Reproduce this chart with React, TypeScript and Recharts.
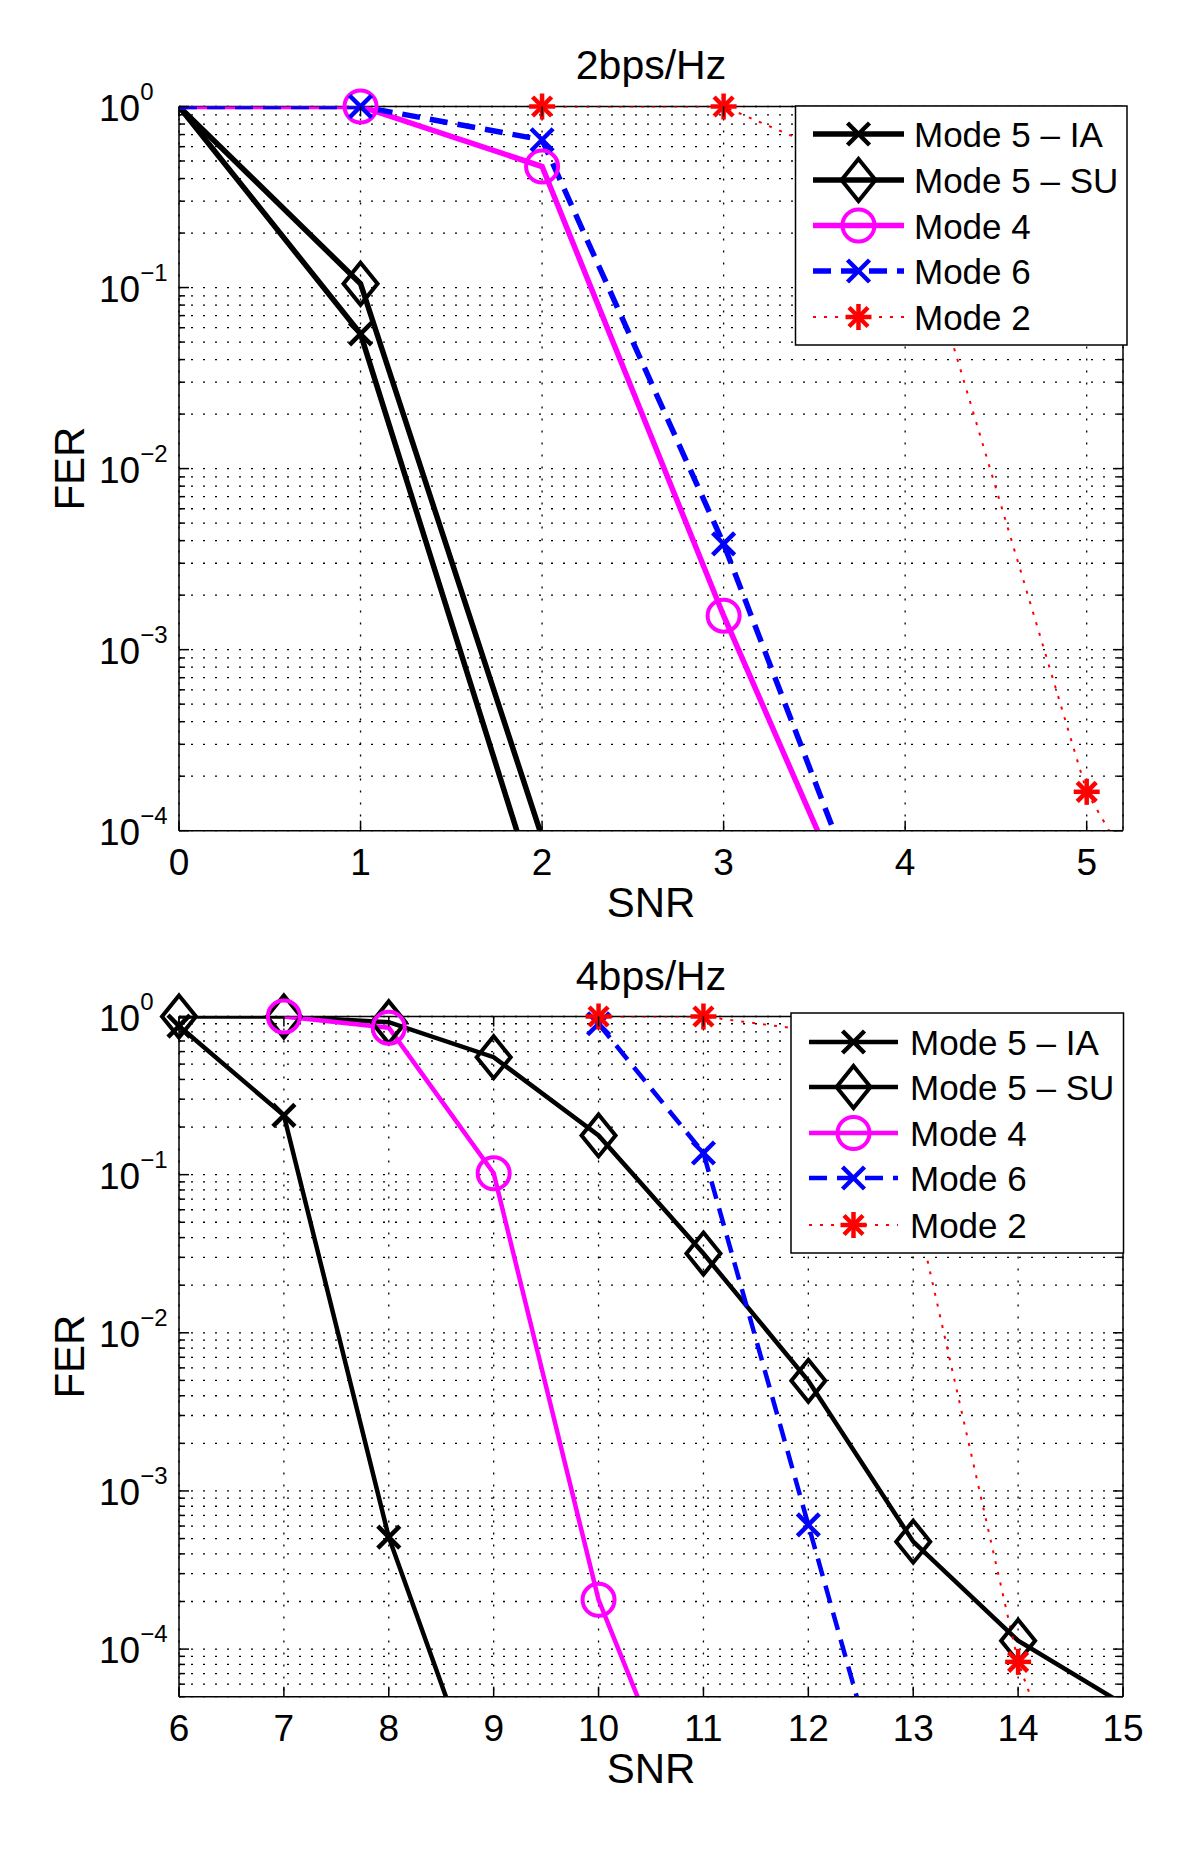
import React from 'react';
import { LineChart, Line, XAxis, YAxis, CartesianGrid, ReferenceLine } from 'recharts';

// ---- 2bps/Hz panel ----
const snrIA2 = [0, 1, 2];
const ferIA2 = [1, 0.0555, 3.6e-5];
const snrSU2 = [0, 1, 2];
const ferSU2 = [1, 0.105, 9.2e-5];
const snrM4_2 = [0, 1, 2, 3, 4];
const ferM4_2 = [1, 1, 0.466, 1.54e-3, 7.8e-6];
const snrM6_2 = [0, 1, 2, 3, 4];
const ferM6_2 = [1, 1, 0.655, 3.84e-3, 9.4e-6];
const snrM2_2 = [2, 3, 4, 5, 6];
const ferM2_2 = [1, 1, 0.37, 1.64e-4, 3e-6];

// ---- 4bps/Hz panel ----
const snrIA4 = [6, 7, 8, 9];
const ferIA4 = [0.87, 0.237, 5.1e-4, 7.2e-6];
const snrSU4 = [6, 7, 8, 9, 10, 11, 12, 13, 14, 15];
const ferSU4 = [1, 1, 0.92, 0.553, 0.177, 0.0317, 4.97e-3, 4.78e-4, 1.13e-4, 4.5e-5];
const snrM4_4 = [7, 8, 9, 10, 11];
const ferM4_4 = [1, 0.85, 0.102, 2.05e-4, 4.6e-6];
const snrM6_4 = [10, 11, 12, 13];
const ferM6_4 = [0.9, 0.137, 6.1e-4, 2.7e-6];
const snrM2_4 = [10, 11, 12, 13, 14, 15];
const ferM2_4 = [1, 1, 0.82, 0.072, 8.3e-5, 1.2e-6];

// axes
const xTicks2 = [0, 1, 2, 3, 4, 5];
const xTicks4 = [6, 7, 8, 9, 10, 11, 12, 13, 14, 15];
const yExps2 = [0, -1, -2, -3, -4];
const yExps4 = [0, -1, -2, -3, -4];

const legendNames = ['Mode 5 – IA', 'Mode 5 – SU', 'Mode 4', 'Mode 6', 'Mode 2'];

const FONT = "'Liberation Sans', Arial, Helvetica, sans-serif";
const TICK_FS = 37;

type Shape = 'x' | 'd' | 'o' | '*';

const styles = [
  { color: '#000000', dash: undefined, shape: 'x' as Shape },
  { color: '#000000', dash: undefined, shape: 'd' as Shape },
  { color: '#ff00ff', dash: undefined, shape: 'o' as Shape },
  { color: '#0000ff', dash: '18 10', shape: 'x' as Shape },
  { color: '#ff0000', dash: '3 8', shape: '*' as Shape },
];

const Marker = ({ shape, color, x, y }: { shape: Shape; color: string; x: number; y: number }) => {
  if (shape === 'x') {
    const s = 11;
    return (
      <g stroke={color} strokeWidth={4.5}>
        <line x1={x - s} y1={y - s} x2={x + s} y2={y + s} />
        <line x1={x - s} y1={y + s} x2={x + s} y2={y - s} />
      </g>
    );
  }
  if (shape === 'd') {
    return (
      <polygon
        points={`${x},${y - 21} ${x + 17},${y} ${x},${y + 21} ${x - 17},${y}`}
        fill="none"
        stroke={color}
        strokeWidth={4}
      />
    );
  }
  if (shape === 'o') {
    return <circle cx={x} cy={y} r={16} fill="none" stroke={color} strokeWidth={4} />;
  }
  const s = 13;
  const d = 9.5;
  return (
    <g stroke={color} strokeWidth={4.5}>
      <line x1={x} y1={y - s} x2={x} y2={y + s} />
      <line x1={x - s} y1={y} x2={x + s} y2={y} />
      <line x1={x - d} y1={y - d} x2={x + d} y2={y + d} />
      <line x1={x - d} y1={y + d} x2={x + d} y2={y - d} />
    </g>
  );
};

interface PanelProps {
  width: number;
  height: number;
  margin: { top: number; right: number; bottom: number; left: number };
  xDomain: [number, number];
  xTicks: number[];
  yDomain: [number, number];
  yExps: number[];
  series: { xs: number[]; ys: number[] }[];
  lineWidth: number;
  markLeftEdge: boolean;
}

const YAXIS_W = 100;
const XAXIS_H = 60;

const Panel = ({ width, height, margin, xDomain, xTicks, yDomain, yExps, series, lineWidth, markLeftEdge }: PanelProps) => {
  const plotLeft = margin.left + YAXIS_W;
  const plotRight = width - margin.right;
  const plotTop = margin.top;
  const plotBottom = height - margin.bottom - XAXIS_H;

  const majors = yExps.map((e) => Math.pow(10, e));
  const yTicks: number[] = [];
  yExps.forEach((e) => {
    for (let m = 1; m <= 9; m++) {
      const v = m * Math.pow(10, e);
      if (v >= yDomain[0] * 0.999 && v <= yDomain[1] * 1.001) yTicks.push(v);
    }
  });
  for (let m = 1; m <= 9; m++) {
    const v = m * Math.pow(10, Math.min(...yExps) - 1);
    if (v >= yDomain[0] * 0.999) yTicks.push(v);
  }
  yTicks.sort((a, b) => a - b);

  const renderYTick = (p: any) => {
    const v = p.payload.value;
    const y = p.y;
    const isMajor = majors.some((m) => Math.abs(m - v) / m < 1e-6);
    const len = isMajor ? 10 : 6;
    const e = Math.round(Math.log10(v));
    return (
      <g>
        <line x1={plotLeft} x2={plotLeft + len} y1={y} y2={y} stroke="#000" strokeWidth={1.5} />
        <line x1={plotRight - len} x2={plotRight} y1={y} y2={y} stroke="#000" strokeWidth={1.5} />
        {isMajor && (
          <text x={99} y={y + 14} fontSize={TICK_FS} fontFamily={FONT} fill="#000">
            10
            <tspan dy={-21} fontSize={24}>
              {e < 0 ? `−${-e}` : `${e}`}
            </tspan>
          </text>
        )}
      </g>
    );
  };

  const renderXTick = (p: any) => {
    const v = p.payload.value;
    const x = p.x;
    return (
      <g>
        <line x1={x} x2={x} y1={plotBottom} y2={plotBottom - 10} stroke="#000" strokeWidth={1.5} />
        <line x1={x} x2={x} y1={plotTop} y2={plotTop + 10} stroke="#000" strokeWidth={1.5} />
        <text x={x} y={plotBottom + 44} textAnchor="middle" fontSize={TICK_FS} fontFamily={FONT} fill="#000">
          {v}
        </text>
      </g>
    );
  };

  const showMarker = (pt: { snr: number; fer: number }) =>
    (markLeftEdge ? pt.snr >= xDomain[0] : pt.snr > xDomain[0]) &&
    pt.snr <= xDomain[1] &&
    pt.fer >= yDomain[0] &&
    pt.fer <= yDomain[1];

  return (
    <LineChart width={width} height={height} margin={margin}>
      <CartesianGrid stroke="#000" strokeWidth={1.3} strokeDasharray="2 10" />
      <XAxis
        dataKey="snr"
        type="number"
        domain={xDomain}
        ticks={xTicks}
        interval={0}
        allowDataOverflow
        height={XAXIS_H}
        tickLine={false}
        axisLine={{ stroke: '#000', strokeWidth: 1.5 }}
        tick={renderXTick}
      />
      <YAxis
        dataKey="fer"
        scale="log"
        domain={yDomain}
        ticks={yTicks}
        interval={0}
        allowDataOverflow
        width={YAXIS_W}
        tickLine={false}
        axisLine={{ stroke: '#000', strokeWidth: 1.5 }}
        tick={renderYTick}
      />
      <XAxis xAxisId="m" dataKey="snr" type="number" domain={xDomain} hide />
      <YAxis yAxisId="m" dataKey="fer" scale="log" domain={yDomain} hide />
      <ReferenceLine y={yDomain[1]} stroke="#000" strokeWidth={1.5} />
      <ReferenceLine x={xDomain[1]} stroke="#000" strokeWidth={1.5} />
      {series.flatMap((s, i) => {
        const st = styles[i];
        const pts = s.xs.map((x, k) => ({ snr: x, fer: s.ys[k] }));
        return [
          <Line
            key={`l${i}`}
            data={pts}
            dataKey="fer"
            type="linear"
            stroke={st.color}
            strokeWidth={i === 4 ? 2 : lineWidth}
            strokeDasharray={st.dash}
            dot={false}
            activeDot={false}
            isAnimationActive={false}
          />,
          <Line
            key={`m${i}`}
            xAxisId="m"
            yAxisId="m"
            data={pts.filter(showMarker)}
            dataKey="fer"
            type="linear"
            stroke="none"
            dot={(p: any) => (
              <Marker key={`d${i}-${p.index}`} shape={st.shape} color={st.color} x={p.cx} y={p.cy} />
            )}
            activeDot={false}
            isAnimationActive={false}
          />,
        ];
      })}
    </LineChart>
  );
};

const LegendBox = ({ x, y, w, h, rows, sx0, sx1, tx, lw }: any) => (
  <g>
    <rect x={x} y={y} width={w} height={h} fill="#fff" stroke="#000" strokeWidth={1.5} />
    {legendNames.map((name, i) => {
      const st = styles[i];
      const ry = rows[i];
      const cx = (sx0 + sx1) / 2;
      return (
        <g key={name}>
          <line x1={sx0} x2={sx1} y1={ry} y2={ry} stroke={st.color} strokeWidth={i === 4 ? 2 : lw} strokeDasharray={st.dash} />
          <Marker shape={st.shape} color={st.color} x={cx} y={ry} />
          <text x={tx} y={ry + 13} fontSize={35} fontFamily={FONT} fill="#000">
            {name}
          </text>
        </g>
      );
    })}
  </g>
);

export default function App() {
  const seriesTop = [
    { xs: snrIA2, ys: ferIA2 },
    { xs: snrSU2, ys: ferSU2 },
    { xs: snrM4_2, ys: ferM4_2 },
    { xs: snrM6_2, ys: ferM6_2 },
    { xs: snrM2_2, ys: ferM2_2 },
  ];
  const seriesBottom = [
    { xs: snrIA4, ys: ferIA4 },
    { xs: snrSU4, ys: ferSU4 },
    { xs: snrM4_4, ys: ferM4_4 },
    { xs: snrM6_4, ys: ferM6_4 },
    { xs: snrM2_4, ys: ferM2_4 },
  ];

  return (
    <div style={{ position: 'absolute', left: 0, top: 0, width: 1200, height: 1853, background: '#fff' }}>
      <div style={{ position: 'absolute', left: 0, top: 0 }}>
        <Panel
          width={1200}
          height={930}
          margin={{ top: 106.5, right: 77, bottom: 39.3, left: 79 }}
          xDomain={[0, 5.2]}
          xTicks={xTicks2}
          yDomain={[1e-4, 1]}
          yExps={yExps2}
          series={seriesTop}
          lineWidth={5.5}
          markLeftEdge={false}
        />
      </div>
      <div style={{ position: 'absolute', left: 0, top: 930 }}>
        <Panel
          width={1200}
          height={923}
          margin={{ top: 86.5, right: 77, bottom: 96.3, left: 79 }}
          xDomain={[6, 15]}
          xTicks={xTicks4}
          yDomain={[5e-5, 1]}
          yExps={yExps4}
          series={seriesBottom}
          lineWidth={4.5}
          markLeftEdge={true}
        />
      </div>
      <svg width={1200} height={1853} style={{ position: 'absolute', left: 0, top: 0, pointerEvents: 'none' }}>
        <text x={651} y={79} textAnchor="middle" fontSize={41} fontFamily={FONT}>2bps/Hz</text>
        <text x={651} y={917} textAnchor="middle" fontSize={42} fontFamily={FONT}>SNR</text>
        <text x={83.6} y={468.6} textAnchor="middle" fontSize={42} fontFamily={FONT} transform="rotate(-90 83.6 468.6)">FER</text>
        <LegendBox x={795.5} y={106} w={331.5} h={239} rows={[134, 180, 225.5, 271, 317]} sx0={813} sx1={904} tx={914} lw={5.5} />

        <text x={651} y={990} textAnchor="middle" fontSize={41} fontFamily={FONT}>4bps/Hz</text>
        <text x={651} y={1782.5} textAnchor="middle" fontSize={42} fontFamily={FONT}>SNR</text>
        <text x={83.6} y={1356.6} textAnchor="middle" fontSize={42} fontFamily={FONT} transform="rotate(-90 83.6 1356.6)">FER</text>
        <LegendBox x={791} y={1013} w={332.5} h={240} rows={[1042, 1087, 1133, 1178, 1225]} sx0={809} sx1={898} tx={910} lw={4.5} />
      </svg>
    </div>
  );
}
